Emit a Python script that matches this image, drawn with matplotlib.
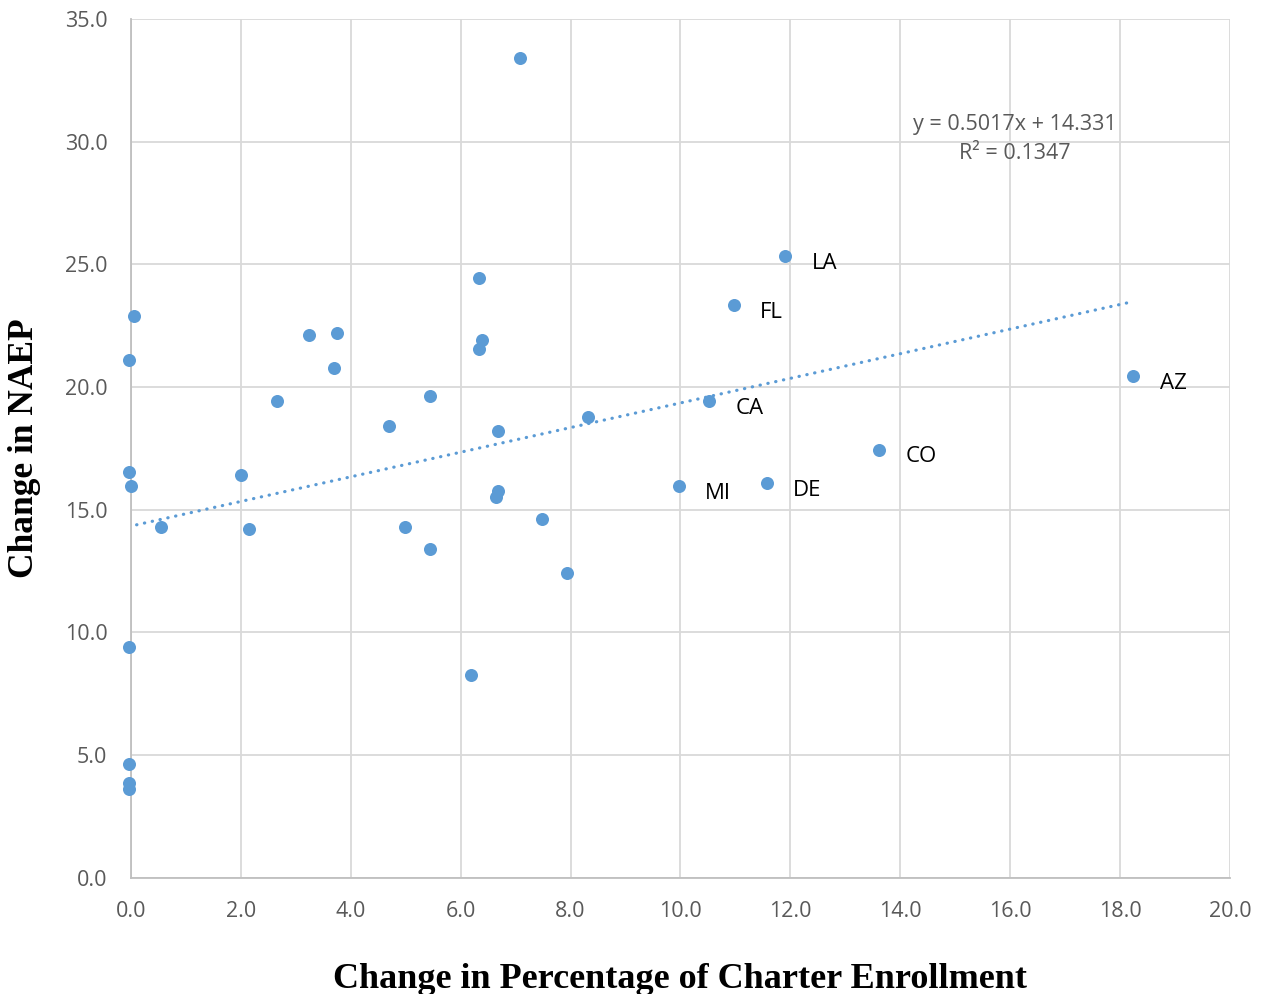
import matplotlib
matplotlib.use("Agg")
import matplotlib.pyplot as plt

# change in % charter enrollment vs change in NAEP, one point per state
pct_change = [0.05, -0.04, -0.04, 0.0, -0.04, -0.04, -0.04, -0.04, 0.55, 2.0,
              2.15, 2.65, 3.24, 3.74, 3.69, 4.69, 4.98, 5.44, 5.44, 6.18,
              6.33, 6.38, 6.33, 6.68, 6.68, 6.64, 7.07, 7.48, 7.93, 8.32,
              9.97, 10.52, 10.97, 11.57, 11.91, 13.61, 18.24]
naep_change = [22.88, 21.09, 16.53, 15.98, 9.4, 4.62, 3.84, 3.61, 14.31, 16.42,
               14.2, 19.44, 22.1, 22.2, 20.77, 18.42, 14.3, 19.65, 13.41, 8.28,
               24.45, 21.9, 21.55, 18.2, 15.76, 15.5, 33.4, 14.63, 12.42, 18.77,
               15.96, 19.42, 23.33, 16.08, 25.33, 17.43, 20.43]
state = ['', 'KY', '', '', '', '', '', '', '', '',
         '', '', '', '', '', '', '', '', '', '',
         '', '', '', '', '', '', '', '', '', '',
         'MI', 'CA', 'FL', 'DE', 'LA', 'CO', 'AZ']

slope = 0.5017
intercept = 14.331
r2 = 0.1347

blue = '#5B9BD5'
grey_txt = '#595959'
sans = ['Open Sans', 'DejaVu Sans']

fig = plt.figure(figsize=(12.61, 9.94), dpi=100)
ax = fig.add_axes([0.1039, 0.117, 0.8715, 0.864])

ax.scatter(pct_change, naep_change, s=88, color=blue, zorder=3, clip_on=False, linewidths=0)

# linear trendline from the reported fit
x0, x1 = min(pct_change), max(pct_change)
ax.plot([x0, x1], [slope * x0 + intercept, slope * x1 + intercept], color=blue,
        lw=2.3, linestyle=(0, (0.1, 2.4)), dash_capstyle='round', zorder=2)

for xv, yv, s in zip(pct_change, naep_change, state):
    if s:
        ax.annotate(s, (xv, yv), xytext=(19, -5), textcoords='offset points',
                    ha='left', va='center', fontsize=16, color='black', family=sans)

ax.text(16.08, 30.69, 'y = %.4fx + %.3f' % (slope, intercept), ha='center', va='center',
        fontsize=15.5, color=grey_txt, family=sans)
ax.text(16.08, 29.5, 'R² = %.4f' % r2, ha='center', va='center',
        fontsize=15.5, color=grey_txt, family=sans)

ax.set_xlim(0, 20)
ax.set_ylim(0, 35)
ax.set_xticks(range(0, 21, 2))
ax.set_yticks(range(0, 36, 5))
ax.set_xticklabels(['%.1f' % v for v in range(0, 21, 2)])
ax.set_yticklabels(['%.1f' % v for v in range(0, 36, 5)])
for lab in ax.get_xticklabels() + ax.get_yticklabels():
    lab.set_family(sans)
    lab.set_fontsize(15.5)
    lab.set_color(grey_txt)
ax.tick_params(length=0, pad=17)

ax.grid(True, color='#d9d9d9', lw=1.3, zorder=0)
ax.set_axisbelow(True)
for side in ['top', 'right']:
    ax.spines[side].set_visible(False)
for side in ['left', 'bottom']:
    ax.spines[side].set_color('#bfbfbf')
    ax.spines[side].set_linewidth(1.3)

ax.set_xlabel('Change in Percentage of Charter Enrollment', family='Liberation Serif',
              fontweight='bold', fontsize=26, labelpad=29)
ax.set_ylabel('Change in NAEP', family='Liberation Serif', fontweight='bold',
              fontsize=25.5, labelpad=17)

fig.savefig('out.png', dpi=100)
